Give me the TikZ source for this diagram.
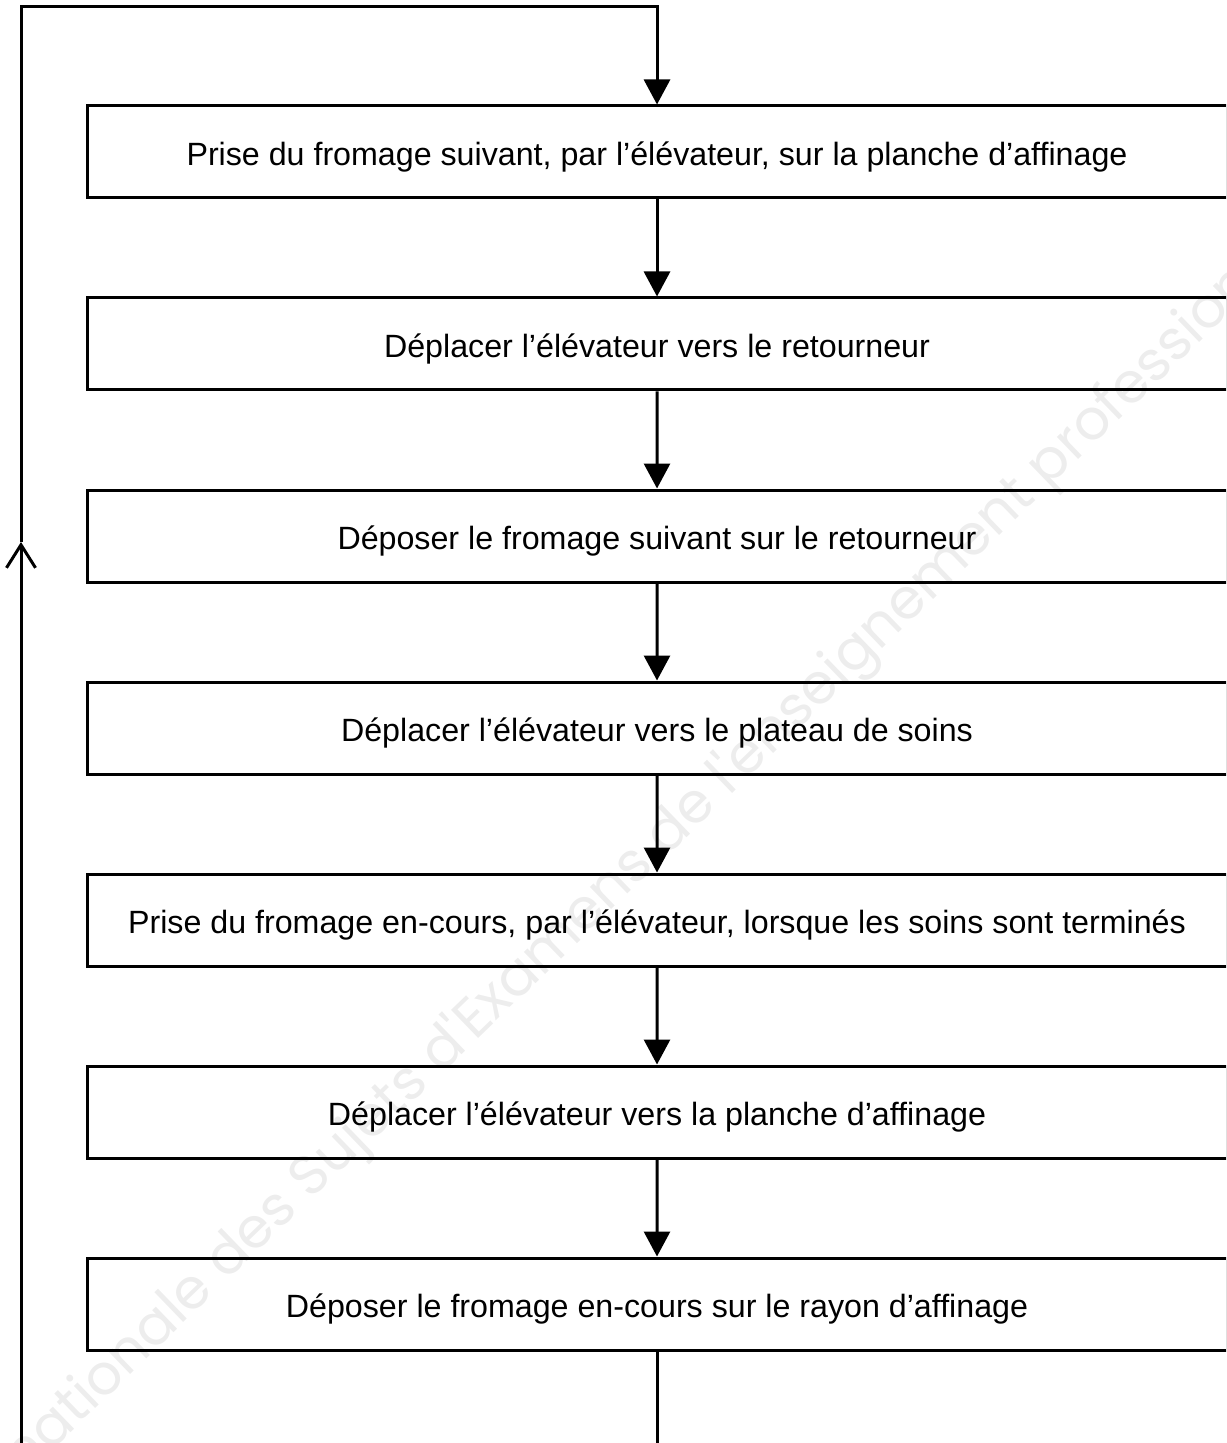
\documentclass[tikz,border=0pt]{standalone}
\usepackage{fontspec}
\setmainfont{Liberation Sans}
\newfontfamily\markfont{Poppins}
\usetikzlibrary{arrows.meta,positioning}

\begin{document}
\begin{tikzpicture}[x=0.5pt, y=0.5pt, line width=1.5pt,
		stepbox/.style = {shape=rectangle, draw, minimum width=570pt, minimum height=46pt, inner sep=0pt,
			text height=13.6pt, text depth=0pt, font=\fontsize{16.1}{19}\selectfont},
		flowarrow/.style = {-{Triangle[length=12.5pt, width=13pt]}},
		backarrow/.style = {-{Straight Barb[length=11.5pt, width=14.5pt]}}]
			\useasboundingbox (0,0) rectangle (1226,-1443);
			\clip (0,0) rectangle (1226,-1443);

			% watermark
			\node [rotate=44, text=gray!14, font=\markfont\fontsize{28}{32}\selectfont] (mark) at (578,-922)
				{Banque nationale des Sujets d'Examens de l'enseignement professionnel};

			\node [stepbox] (p1) at (657,-152) {Prise du fromage suivant, par l’élévateur, sur la planche d’affinage}
			[grow=down, level distance=96pt, edge from parent/.style={draw, flowarrow}]
			child {
				node [stepbox] (p2) {Déplacer l’élévateur vers le retourneur}
				child {
					node [stepbox] (p3) {Déposer le fromage suivant sur le retourneur}
					child {
						node [stepbox] (p4) {Déplacer l’élévateur vers le plateau de soins}
						child {
							node [stepbox] (p5) {Prise du fromage en-cours, par l’élévateur, lorsque les soins sont terminés}
							child {
								node [stepbox] (p6) {Déplacer l’élévateur vers la planche d’affinage}
								child { node [stepbox] (p7) {Déposer le fromage en-cours sur le rayon d’affinage} }
							}
						}
					}
				}
			};

			% loop back
			\coordinate (cornerbl) at (21,-1470);
			\coordinate (cornertl) at (21,-7);
			\coordinate (cornertr) at (657,-7);
			\coordinate (turn) at (21,-542);
			\draw [backarrow] (p7) -- (p7 |- cornerbl) -- (cornerbl) -- (turn);
			\draw [flowarrow] (turn) -- (cornertl) -- (cornertr) -- (p1);
		\end{tikzpicture}
\end{document}
